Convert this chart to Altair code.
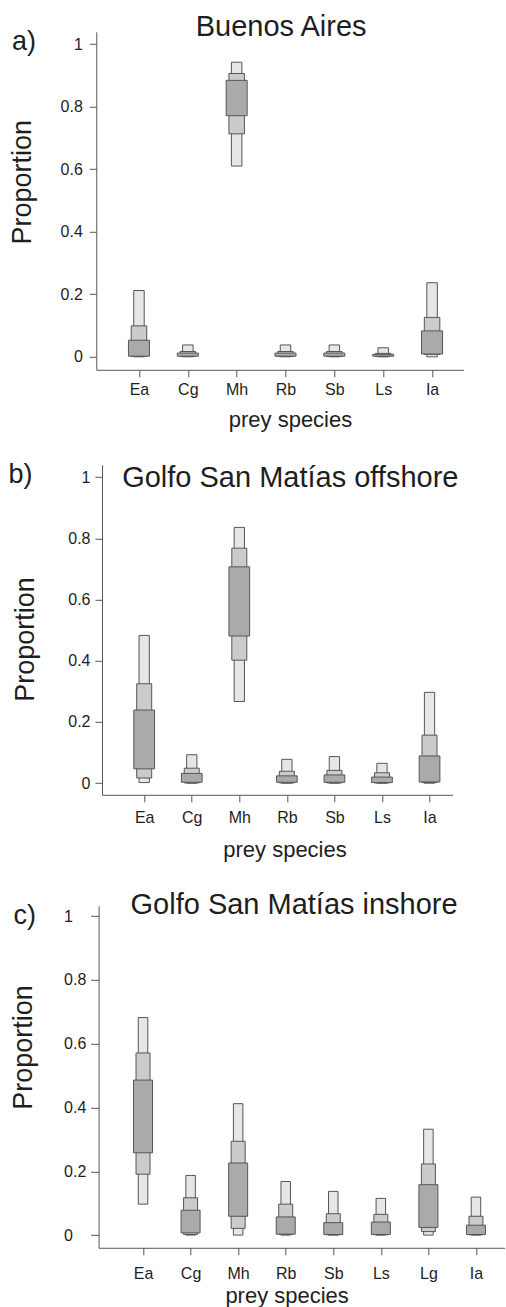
import altair as alt
import pandas as pd

FONT = "Liberation Sans"

# ---------------- data ----------------
species_a = ["Ea", "Cg", "Mh", "Rb", "Sb", "Ls", "Ia"]
lo95_a = [0.000, 0.000, 0.610, 0.000, 0.000, 0.000, 0.000]
hi95_a = [0.212, 0.038, 0.942, 0.038, 0.038, 0.029, 0.237]
lo75_a = [0.001, 0.001, 0.713, 0.001, 0.001, 0.001, 0.008]
hi75_a = [0.099, 0.017, 0.906, 0.017, 0.017, 0.011, 0.126]
lo50_a = [0.002, 0.002, 0.771, 0.002, 0.002, 0.002, 0.009]
hi50_a = [0.053, 0.012, 0.884, 0.012, 0.012, 0.008, 0.083]

species_b = ["Ea", "Cg", "Mh", "Rb", "Sb", "Ls", "Ia"]
lo95_b = [0.002, 0.000, 0.267, 0.000, 0.000, 0.000, 0.000]
hi95_b = [0.483, 0.093, 0.836, 0.078, 0.087, 0.065, 0.297]
lo75_b = [0.017, 0.001, 0.402, 0.001, 0.001, 0.001, 0.002]
hi75_b = [0.325, 0.049, 0.768, 0.039, 0.042, 0.034, 0.157]
lo50_b = [0.047, 0.003, 0.481, 0.003, 0.003, 0.002, 0.004]
hi50_b = [0.239, 0.032, 0.707, 0.024, 0.027, 0.020, 0.089]

species_c = ["Ea", "Cg", "Mh", "Rb", "Sb", "Ls", "Lg", "Ia"]
lo95_c = [0.097, 0.000, 0.000, 0.000, 0.000, 0.000, 0.000, 0.000]
hi95_c = [0.682, 0.187, 0.412, 0.168, 0.137, 0.115, 0.332, 0.119]
lo75_c = [0.191, 0.002, 0.021, 0.002, 0.001, 0.001, 0.011, 0.001]
hi75_c = [0.571, 0.117, 0.294, 0.097, 0.067, 0.065, 0.223, 0.059]
lo50_c = [0.258, 0.007, 0.059, 0.003, 0.002, 0.002, 0.024, 0.002]
hi50_c = [0.486, 0.078, 0.226, 0.057, 0.039, 0.041, 0.158, 0.031]

y_ticks = [0, 0.2, 0.4, 0.6, 0.8, 1]

LIGHT, MID, DARK = "#e6e6e6", "#cbcbcb", "#aaaaaa"
EDGE = "#555555"
TXT = "#1e1e1e"


def panel(species, lo95, hi95, lo75, hi75, lo50, hi50, title, letter, g):
    rows = []
    for lvl, lo, hi in (("95", lo95, hi95), ("75", lo75, hi75), ("50", lo50, hi50)):
        for i, s in enumerate(species):
            rows.append({"i": i, "sp": s, "lvl": lvl, "lo": lo[i], "hi": hi[i]})
    df = pd.DataFrame(rows)
    names = "[" + ",".join("'%s'" % s for s in species) + "]"

    x = alt.X(
        "i:Q",
        scale=alt.Scale(domain=g["xdom"], range=g["xrange"], nice=False, zero=False),
        axis=alt.Axis(
            values=list(range(len(species))), labelExpr=names + "[datum.value]",
            grid=False, tickSize=7, tickColor=EDGE, domainColor=EDGE,
            labelFont=FONT, labelFontSize=16, labelColor=TXT,
            labelBaseline="alphabetic", labelPadding=g["xlp"],
            labelFlush=False, labelOverlap=False, labelBound=False,
            title="prey species", titleFont=FONT, titleFontSize=22,
            titleFontWeight="normal", titleColor=TXT, titleBaseline="alphabetic",
            titleAlign="center", titleX=g["xtx"], titleY=g["xty"],
        ),
    )
    y = alt.Y(
        "lo:Q",
        scale=alt.Scale(domain=g["ydom"], nice=False, zero=False),
        axis=alt.Axis(
            values=y_ticks, format="~g", grid=False, tickSize=g["yts"],
            tickColor=EDGE, domainColor=EDGE, offset=g["yoff"],
            labelFont=FONT, labelFontSize=16, labelColor=TXT,
            labelAlign=g["yla"], labelPadding=g["ylp"],
            labelFlush=False, labelOverlap=False,
            title="Proportion", titleFont=FONT, titleFontSize=27,
            titleFontWeight="normal", titleColor=TXT, titleAngle=270,
            titleBaseline="alphabetic", titleAlign="center",
            titleX=g["ytx"], titleY=g["yty"],
        ),
    )

    base = alt.Chart(df)
    layers = []
    for lvl, col, w in (("95", LIGHT, g["w"][0]), ("75", MID, g["w"][1]), ("50", DARK, g["w"][2])):
        layers.append(
            base.transform_filter(alt.datum.lvl == lvl)
            .mark_bar(size=w, color=col, stroke=EDGE, strokeWidth=1, opacity=1)
            .encode(x=x, y=y, y2="hi:Q")
        )
    ttl = alt.Chart(pd.DataFrame({"t": [title]})).mark_text(
        font=FONT, fontSize=29, align="center", baseline="alphabetic", color=TXT
    ).encode(text="t:N", x=alt.value(g["tx"]), y=alt.value(g["ty"]))
    let = alt.Chart(pd.DataFrame({"t": [letter]})).mark_text(
        font=FONT, fontSize=27, align="left", baseline="alphabetic", color=TXT
    ).encode(text="t:N", x=alt.value(g["lx"]), y=alt.value(g["ly"]))
    return alt.layer(*layers, ttl, let).properties(width=g["W"], height=g["H"])


# all three plot areas share the origin x = 96; panels b and c start their axes a little to the right
ga = dict(xdom=[-0.771, 6.537], xrange=[0, 367], ydom=[-0.0415, 1.0393], W=367, H=338,
          xlp=18, xtx=193.7, xty=56.7, yts=7, yoff=0, yla="right", ylp=7,
          ytx=-65.5, yty=150,
          w=(10.5, 15.5, 21), tx=184.8, ty=4, lx=-84.3, ly=18.3)
gb = dict(xdom=[-0.782, 6.380], xrange=[5.7, 356.3], ydom=[-0.0379, 1.0405], W=357, H=330,
          xlp=21, xtx=188.2, xty=61.4, yts=7, yoff=-5.7, yla="right", ylp=5,
          ytx=-68.2, yty=174.2,
          w=(10.3, 15, 20.7), tx=194, ty=22.7, lx=-87.7, ly=18.4)
gc = dict(xdom=[-0.829, 7.518], xrange=[2.3, 409.3], ydom=[-0.0398, 1.0323], W=409, H=342,
          xlp=24, xtx=190.3, xty=55, yts=8, yoff=-2.3, yla="left", ylp=27,
          ytx=-67.3, yty=141.2,
          w=(9.5, 14, 19), tx=197.8, ty=8.7, lx=-82.7, ly=18.7)

pa = panel(species_a, lo95_a, hi95_a, lo75_a, hi75_a, lo50_a, hi50_a, "Buenos Aires", "a)", ga)
pb = panel(species_b, lo95_b, hi95_b, lo75_b, hi75_b, lo50_b, hi50_b, "Golfo San Matías offshore", "b)", gb)
pc = panel(species_c, lo95_c, hi95_c, lo75_c, hi75_c, lo50_c, hi50_c, "Golfo San Matías inshore", "c)", gc)

chart = (
    alt.vconcat(pa, pb, pc, spacing=30)
    .properties(padding={"left": 8.3, "top": 12.8, "right": 0, "bottom": 0}, background="white")
    .configure_view(stroke=None)
)

chart.save("out.html", embed_options={"renderer": "svg", "actions": False})
